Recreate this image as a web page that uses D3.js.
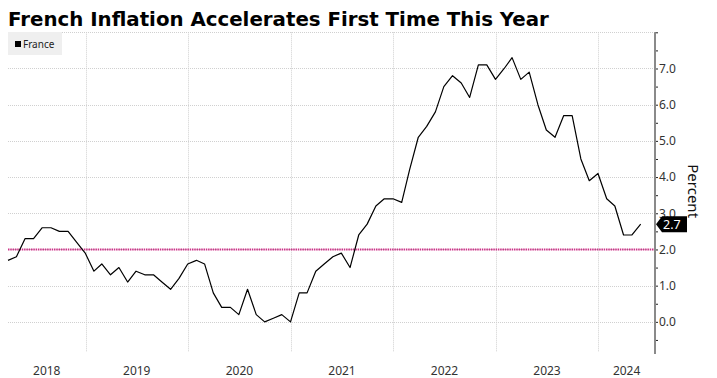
<!DOCTYPE html>
<html lang="en">
<head>
<meta charset="utf-8">
<title>French Inflation Accelerates First Time This Year</title>
<script src="https://d3js.org/d3.v7.min.js"></script>
<style>
  body { margin: 0; background: #fff; }
  svg { display: block; }
  .title { font-family: "DejaVu Sans", Verdana, sans-serif; font-weight: bold; font-size: 19.8px; fill: #000; }
  .lbl { font-family: "Noto Sans", "Open Sans", sans-serif; font-size: 12px; fill: #333; }
  .grid { stroke: #d0d0d0; stroke-width: 1; stroke-dasharray: 1,1; }
</style>
</head>
<body>
<script>
// monthly French inflation, % y/y (point sits at month end)
var months = [
  "2018-03","2018-04","2018-05","2018-06","2018-07","2018-08","2018-09","2018-10","2018-11","2018-12",
  "2019-01","2019-02","2019-03","2019-04","2019-05","2019-06","2019-07","2019-08","2019-09","2019-10","2019-11","2019-12",
  "2020-01","2020-02","2020-03","2020-04","2020-05","2020-06","2020-07","2020-08","2020-09","2020-10","2020-11","2020-12",
  "2021-01","2021-02","2021-03","2021-04","2021-05","2021-06","2021-07","2021-08","2021-09","2021-10","2021-11","2021-12",
  "2022-01","2022-02","2022-03","2022-04","2022-05","2022-06","2022-07","2022-08","2022-09","2022-10","2022-11","2022-12",
  "2023-01","2023-02","2023-03","2023-04","2023-05","2023-06","2023-07","2023-08","2023-09","2023-10","2023-11","2023-12",
  "2024-01","2024-02","2024-03","2024-04","2024-05"
];
var france = [
  1.7,1.8,2.3,2.3,2.6,2.6,2.5,2.5,2.2,1.9,
  1.4,1.6,1.3,1.5,1.1,1.4,1.3,1.3,1.1,0.9,1.2,1.6,
  1.7,1.6,0.8,0.4,0.4,0.2,0.9,0.2,0.0,0.1,0.2,0.0,
  0.8,0.8,1.4,1.6,1.8,1.9,1.5,2.4,2.7,3.2,3.4,3.4,
  3.3,4.2,5.1,5.4,5.8,6.5,6.8,6.6,6.2,7.1,7.1,6.7,
  7.0,7.3,6.7,6.9,6.0,5.3,5.1,5.7,5.7,4.5,3.9,4.1,
  3.4,3.2,2.4,2.4,2.7
];
var years = [2018, 2019, 2020, 2021, 2022, 2023, 2024];
var yTicks = [0, 1, 2, 3, 4, 5, 6, 7];
var target = 2.0;
var seriesName = "France";
var titleText = "French Inflation Accelerates First Time This Year";

var W = 717, H = 378;
var plotL = 8, plotR = 655, plotT = 32.3, plotB = 349;

var svg = d3.select("body").append("svg").attr("width", W).attr("height", H);

var parse = d3.timeParse("%Y-%m");
var data = months.map(function(m, i) {
  var d = parse(m);
  return { date: new Date(d.getFullYear(), d.getMonth() + 1, 0), value: france[i] };
});

var x = d3.scaleTime()
  .domain([new Date(2018, 2, 31), new Date(2024, 6, 21)])
  .range([plotL, plotR]);
var y = d3.scaleLinear().domain([-0.75, 8]).range([plotB, plotT]);

// title
svg.append("text").attr("class", "title")
  .attr("x", 8).attr("y", 26)
  .text(titleText);

// horizontal grid
svg.append("g").selectAll("line")
  .data(yTicks.concat([8]))
  .join("line")
  .attr("class", "grid")
  .attr("x1", plotL).attr("x2", plotR)
  .attr("y1", function(d) { return Math.round(y(d)) + 0.5; })
  .attr("y2", function(d) { return Math.round(y(d)) + 0.5; });

// vertical grid at year starts
var yearStarts = years.slice(1).map(function(yr) { return new Date(yr, 0, 1); });
svg.append("g").selectAll("line")
  .data(yearStarts)
  .join("line")
  .attr("class", "grid")
  .attr("x1", function(d) { return Math.round(x(d)) + 0.5; })
  .attr("x2", function(d) { return Math.round(x(d)) + 0.5; })
  .attr("y1", plotT).attr("y2", plotB + 3);

// year labels centred on the visible part of each year
var dom = x.domain();
svg.append("g").selectAll("text")
  .data(years)
  .join("text")
  .attr("class", "lbl")
  .attr("text-anchor", "middle")
  .attr("x", function(yr) {
    var a = Math.max(+new Date(yr, 0, 1), +dom[0]);
    var b = Math.min(+new Date(yr + 1, 0, 1), +dom[1]);
    return (x(a) + x(b)) / 2;
  })
  .attr("y", 375)
  .text(function(yr) { return yr; });

// 2% target line
svg.append("line")
  .attr("x1", plotL).attr("x2", plotR)
  .attr("y1", y(target)).attr("y2", y(target))
  .attr("stroke", "#cc3388").attr("stroke-width", 2)
  .attr("stroke-dasharray", "1.5,0.8");

// series line
var line = d3.line()
  .x(function(d) { return x(d.date); })
  .y(function(d) { return y(d.value); });
svg.append("path")
  .datum(data)
  .attr("fill", "none")
  .attr("stroke", "#000")
  .attr("stroke-width", 1.2)
  .attr("stroke-linejoin", "round")
  .attr("d", line);

// right axis
var axis = d3.axisRight(y)
  .tickValues(d3.range(-0.5, 8.01, 0.5))
  .tickSize(3)
  .tickFormat(function(d) { return (Number.isInteger(d) && d <= 7) ? d3.format(".1f")(d) : ""; });
var ag = svg.append("g")
  .attr("transform", "translate(" + plotR + ",0)")
  .call(axis);
ag.select(".domain").remove();
ag.selectAll(".tick line").attr("stroke", "#222").attr("stroke-width", 1);
ag.selectAll(".tick text")
  .attr("class", "lbl")
  .attr("x", 4)
  .style("font-size", "12px")
  .attr("fill", "#333");
svg.append("line")
  .attr("x1", plotR).attr("x2", plotR)
  .attr("y1", plotT).attr("y2", plotB + 5)
  .attr("stroke", "#8a8a8a").attr("stroke-width", 2);

// axis title
svg.append("text")
  .attr("class", "lbl")
  .attr("transform", "translate(688," + ((y(0) + y(7)) / 2 - 4) + ") rotate(90)")
  .attr("text-anchor", "middle")
  .style("font-size", "15px").style("fill", "#111")
  .text("Percent");

// last value tag
var last = data[data.length - 1];
var ly = y(last.value);
svg.append("path")
  .attr("d", "M" + (plotR + 1) + "," + ly + " L" + (plotR + 7) + "," + (ly - 8) +
             " L" + (plotR + 32) + "," + (ly - 8) + " L" + (plotR + 32) + "," + (ly + 8) +
             " L" + (plotR + 7) + "," + (ly + 8) + " Z")
  .attr("fill", "#000");
svg.append("text")
  .attr("class", "lbl")
  .attr("x", plotR + 8).attr("y", ly + 4.5)
  .style("fill", "#fff").style("font-size", "12.5px")
  .text(d3.format(".1f")(last.value));

// legend
var lg = svg.append("g").attr("transform", "translate(8,32)");
lg.append("rect").attr("width", 54).attr("height", 23).attr("fill", "#efefef");
lg.append("rect").attr("x", 7).attr("y", 9).attr("width", 6).attr("height", 6).attr("fill", "#000");
lg.append("text").attr("class", "lbl")
  .attr("x", 15).attr("y", 16)
  .style("font-size", "10px").style("fill", "#222")
  .text(seriesName);
</script>
</body>
</html>
